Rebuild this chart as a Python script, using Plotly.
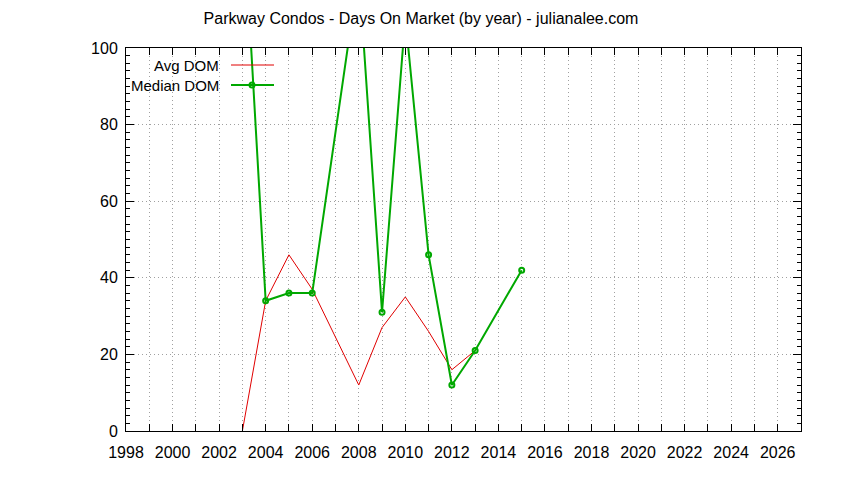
import plotly.graph_objects as go

# Avg DOM by year
avg_years = [2003, 2004, 2005, 2006, 2008, 2009, 2010, 2011, 2012, 2013]
avg_dom = [0, 34, 46, 37, 12, 27, 35, 26, 16, 21]

# Median DOM by year (2007 and 2014 missing)
med_years = [2003, 2004, 2005, 2006, 2008, 2009, 2010, 2011, 2012, 2013, 2015]
med_dom = [140, 34, 36, 36, 120, 31, 108, 46, 12, 21, 42]

x_ticks = list(range(1998, 2027, 2))
y_ticks = list(range(0, 101, 20))

RED = "#e00000"
GREEN = "#00a800"
FONT = "Liberation Sans"
GRID = "#a0a0a0"

# page body has an 8px margin, so the figure is drawn 8px in from the corner
W, H = 828, 464
L, R, T, B = 118, 35, 40, 41
PW, PH = W - L - R, H - T - B

fig = go.Figure()
fig.add_trace(go.Scatter(
    x=avg_years, y=avg_dom, mode="lines", name="Avg DOM",
    line=dict(color=RED, width=1),
))
fig.add_trace(go.Scatter(
    x=med_years, y=med_dom, mode="lines+markers", name="Median DOM",
    line=dict(color=GREEN, width=2),
    marker=dict(symbol="circle-open", size=5, color=GREEN, line=dict(width=2, color=GREEN)),
))

axis_common = dict(
    showline=True, linecolor="black", linewidth=1, mirror="ticks",
    ticks="inside", tickcolor="black", tickwidth=1,
    zeroline=False, showgrid=True, gridcolor=GRID, griddash="1px,3px", gridwidth=1,
    tickfont=dict(family=FONT, size=16, color="black"),
)

fig.update_xaxes(
    range=[1998, 2027], tickvals=x_ticks, ticklen=7, ticklabelstandoff=7,
    minor=dict(dtick=1, tick0=1998, ticks="inside", ticklen=7, tickcolor="black",
               showgrid=True, gridcolor=GRID, griddash="1px,3px"),
    **axis_common,
)
fig.update_yaxes(
    range=[0, 100], tickvals=y_ticks, ticklen=8, ticklabelstandoff=4,
    minor=dict(dtick=2, tick0=0, ticks="inside", ticklen=4, tickcolor="black",
               showgrid=False),
    **axis_common,
)

# gnuplot-style key: right-aligned text, sample line to the right
legend_rows = [("Avg DOM", RED, 1, False), ("Median DOM", GREEN, 2, True)]
shapes = []
annotations = []
for i, (label, color, width, marker) in enumerate(legend_rows):
    ypx = 57 + i * 20
    yp = 1 - (ypx - T) / PH
    annotations.append(dict(
        text=label, xref="paper", yref="paper", x=(213 - L) / PW, y=yp,
        xanchor="right", yanchor="middle", showarrow=False,
        font=dict(family=FONT, size=15, color="black"),
    ))
    shapes.append(dict(
        type="line", xref="paper", yref="paper",
        x0=(223 - L) / PW, x1=(266 - L) / PW, y0=yp, y1=yp,
        line=dict(color=color, width=width),
    ))
    if marker:
        r = 2.5
        shapes.append(dict(
            type="circle", xref="paper", yref="paper",
            x0=(244 - r - L) / PW, x1=(244 + r - L) / PW,
            y0=yp - r / PH, y1=yp + r / PH,
            line=dict(color=color, width=2),
        ))

fig.update_layout(
    width=W, height=H,
    margin=dict(l=L, r=R, t=T, b=B),
    paper_bgcolor="white", plot_bgcolor="white",
    showlegend=False,
    title=dict(
        text="Parkway Condos - Days On Market (by year) - julianalee.com",
        x=413 / W, xanchor="center", y=1 - 10 / H, yanchor="middle",
        font=dict(family=FONT, size=16, color="black"),
    ),
    shapes=shapes,
    annotations=annotations,
)

fig.write_html("out.html")
